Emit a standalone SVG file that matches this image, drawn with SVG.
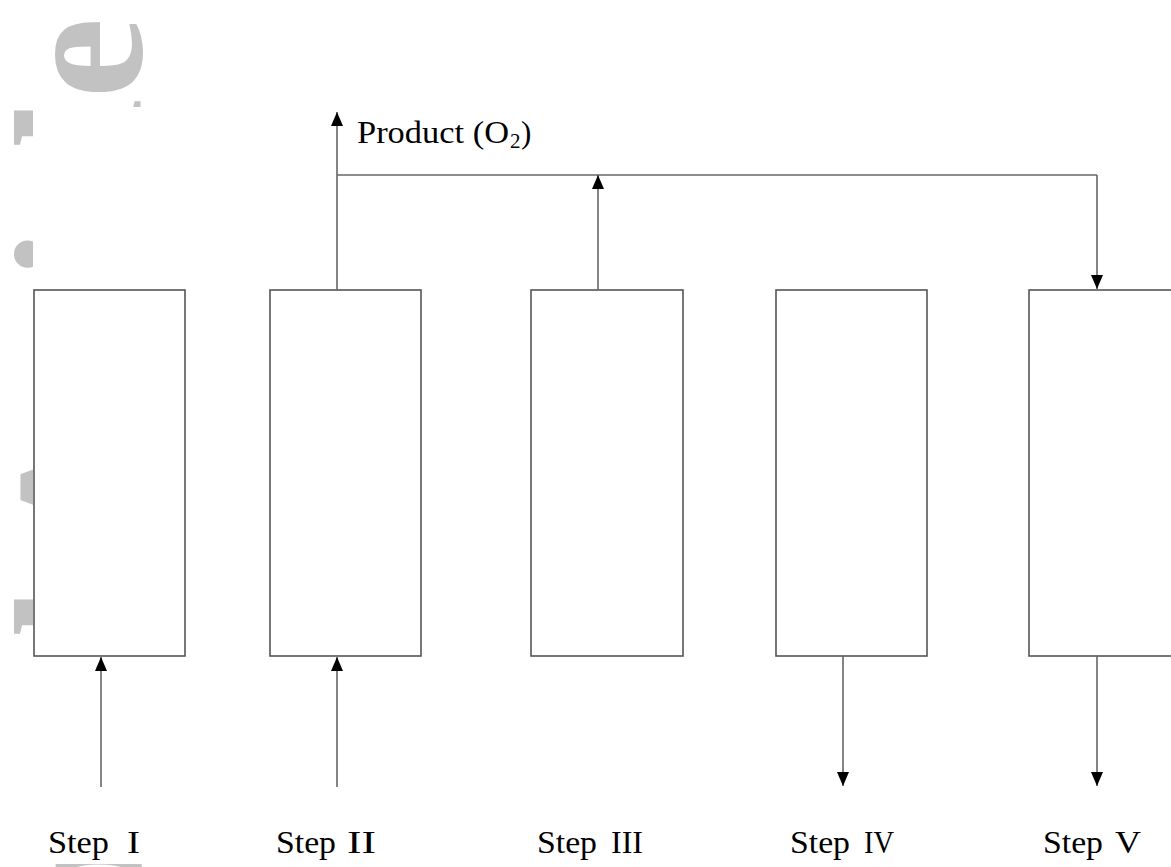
<svg xmlns="http://www.w3.org/2000/svg" width="1171" height="867" viewBox="0 0 1171 867">
  <style>
    .box { fill: #ffffff; stroke: #555555; stroke-width: 1.6; }
    .wire { fill: none; stroke: #666666; stroke-width: 1.6; }
    .lbl { font-family: "Liberation Serif", "Times New Roman", serif; fill: #000000; }
    .wm { font-family: "Liberation Serif", "Times New Roman", serif; font-weight: bold; fill: #c2c2c2; font-size: 182px; }
  </style>
  <defs>
    <marker id="ah" viewBox="0 0 14 12" refX="14" refY="6" markerWidth="14" markerHeight="12" markerUnits="userSpaceOnUse" orient="auto">
      <path d="M0,0 L14,6 L0,12 Z" fill="#000000"/>
    </marker>
  </defs>
  <rect width="1171" height="867" fill="#ffffff"/>
  <g id="watermark">
    <text class="wm" transform="translate(141,1306) rotate(-90)">Accepted Article</text>
  </g>
  <rect x="33" y="107" width="1138" height="757" fill="#ffffff"/>
  <g id="step1"><rect class="box" x="34" y="290" width="151" height="366"/></g>
  <g id="step2"><rect class="box" x="270" y="290" width="151" height="366"/></g>
  <g id="step3"><rect class="box" x="531" y="290" width="152" height="366"/></g>
  <g id="step4"><rect class="box" x="776" y="290" width="151" height="366"/></g>
  <g id="step5"><rect class="box" x="1029" y="290" width="150" height="366"/></g>
  <g id="connectors">
    <line class="wire" x1="101" y1="787" x2="101" y2="657" marker-end="url(#ah)"/>
    <line class="wire" x1="337" y1="787" x2="337" y2="657" marker-end="url(#ah)"/>
    <line class="wire" x1="337" y1="290" x2="337" y2="112" marker-end="url(#ah)"/>
    <line class="wire" x1="337" y1="175" x2="1097" y2="175"/>
    <line class="wire" x1="598" y1="290" x2="598" y2="175" marker-end="url(#ah)"/>
    <line class="wire" x1="1097" y1="175" x2="1097" y2="289" marker-end="url(#ah)"/>
    <line class="wire" x1="843" y1="656" x2="843" y2="786" marker-end="url(#ah)"/>
    <line class="wire" x1="1097" y1="656" x2="1097" y2="786" marker-end="url(#ah)"/>
  </g>
  <g id="labels">
    <text class="lbl" x="357" y="143" font-size="31" textLength="152" lengthAdjust="spacingAndGlyphs">Product (O</text>
    <text class="lbl" x="510" y="148" font-size="21">2</text>
    <text class="lbl" x="521" y="143" font-size="31">)</text>
    <text class="lbl" x="48" y="853" font-size="31" textLength="61" lengthAdjust="spacingAndGlyphs">Step</text>
    <text class="lbl" x="127" y="853" font-size="31" textLength="13" lengthAdjust="spacingAndGlyphs">I</text>
    <text class="lbl" x="276" y="853" font-size="31" textLength="60" lengthAdjust="spacingAndGlyphs">Step</text>
    <text class="lbl" x="347" y="853" font-size="31" textLength="29" lengthAdjust="spacingAndGlyphs">II</text>
    <text class="lbl" x="537" y="853" font-size="31" textLength="60" lengthAdjust="spacingAndGlyphs">Step</text>
    <text class="lbl" x="611" y="853" font-size="31" textLength="32" lengthAdjust="spacingAndGlyphs">III</text>
    <text class="lbl" x="790" y="853" font-size="31" textLength="60" lengthAdjust="spacingAndGlyphs">Step</text>
    <text class="lbl" x="864" y="853" font-size="31" textLength="30" lengthAdjust="spacingAndGlyphs">IV</text>
    <text class="lbl" x="1043" y="853" font-size="31" textLength="60" lengthAdjust="spacingAndGlyphs">Step</text>
    <text class="lbl" x="1115" y="853" font-size="31" textLength="26" lengthAdjust="spacingAndGlyphs">V</text>
  </g>
</svg>
